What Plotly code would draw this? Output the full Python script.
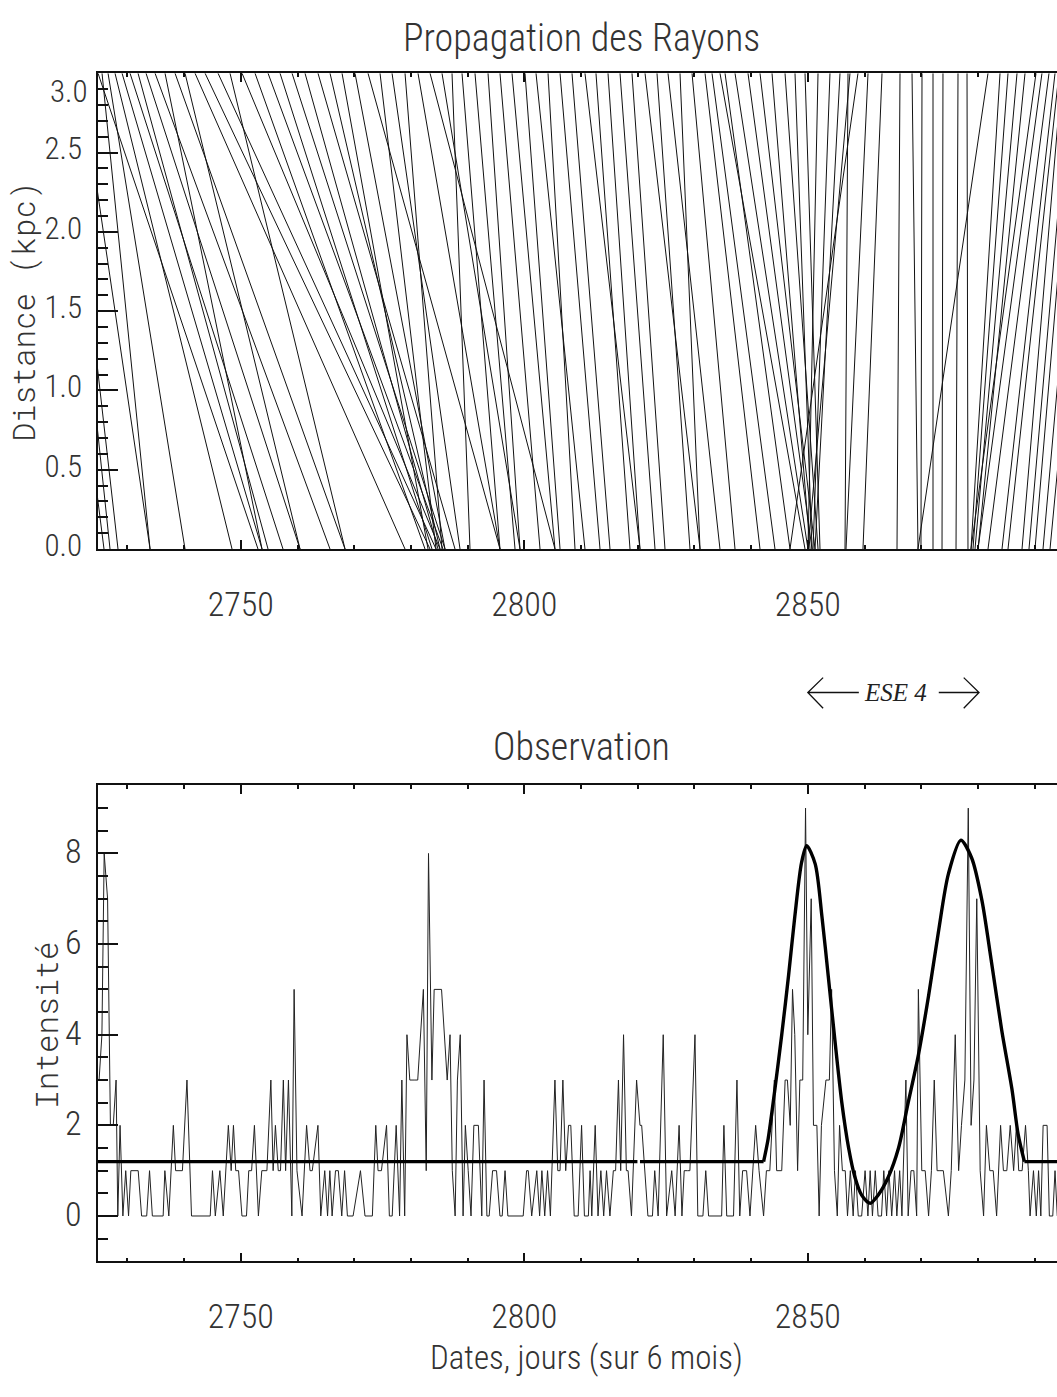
import plotly.graph_objects as go

# ---- ray propagation: date at 3.0 kpc (far end) -> date at 0 kpc (observer), in days ----
ray_day_far = [
    # early rays, arriving before ~2790
    2715.29, 2718.11, 2718.82, 2721.64, 2724.81, 2725.52, 2726.58, 2727.81, 2729.05, 2730.46,
    2731.87, 2733.28, 2734.87, 2736.63, 2738.39, 2740.16, 2741.92, 2743.69, 2745.98, 2748.09,
    2750.21, 2752.50, 2754.80, 2756.91, 2759.03, 2761.32, 2763.61, 2765.73, 2767.85, 2770.14,
    2772.43, 2774.55, 2776.67, 2778.96, 2781.25, 2783.37, 2785.48, 2787.25,
    # quiet interval
    2789.01, 2791.30, 2793.60, 2795.71, 2797.83, 2800.12, 2802.06, 2804.18, 2806.30, 2808.41,
    2810.70, 2812.64, 2814.76, 2816.88, 2818.99, 2821.29, 2823.40, 2825.34, 2827.46, 2829.58,
    2831.87, 2833.10, 2835.40,
    # rays focused near 2850
    2834.51, 2837.16, 2839.45, 2841.57, 2843.69, 2845.98, 2847.74, 2849.51, 2851.80, 2853.91,
    2855.68, 2857.44, 2857.09, 2858.85,
    # late rays
    2860.62, 2863.09, 2866.26, 2868.38, 2870.14, 2872.08, 2873.84, 2876.49, 2878.08, 2881.78,
    2883.90, 2885.31, 2886.90, 2888.31, 2890.25, 2891.30, 2892.54, 2893.60, 2894.30, 2894.83,
    2896.24, 2897.12, 2898.89, 2900.65]
ray_day_obs = [
    2725.87, 2726.93, 2728.34, 2733.99, 2753.03, 2733.99, 2740.16, 2748.45, 2753.74, 2757.44,
    2754.80, 2760.44, 2765.73, 2753.74, 2768.38, 2760.44, 2778.96, 2783.37, 2784.43, 2768.38,
    2785.13, 2782.49, 2785.66, 2783.72, 2786.01, 2784.78, 2787.78, 2785.13, 2783.02, 2786.01,
    2795.71, 2784.43, 2788.66, 2785.48, 2795.71, 2805.41, 2799.24, 2790.42,
    2795.71, 2798.36, 2799.24, 2802.77, 2805.41, 2806.30, 2810.70, 2808.94, 2813.35, 2815.11,
    2820.40, 2818.64, 2820.40, 2823.05, 2824.81, 2830.99, 2829.22, 2834.51, 2830.99, 2837.16,
    2841.57, 2844.21, 2846.86,
    2849.51, 2850.03, 2850.74, 2851.27, 2850.39, 2851.80, 2850.74, 2852.15, 2850.03, 2850.92,
    2851.27, 2850.03, 2856.56, 2846.86,
    2856.74, 2859.73, 2865.73, 2869.43, 2869.96, 2872.08, 2873.67, 2876.14, 2878.25, 2869.43,
    2878.78, 2879.13, 2879.49, 2880.02, 2878.78, 2880.02, 2881.78, 2884.25, 2885.31, 2887.78,
    2889.01, 2890.07, 2891.48, 2892.72]
ray_kpc_far = 3.0

# ---- observed daily intensity ----
obs_day = [2725.0, 2725.5, 2725.9, 2726.5, 2727.0, 2727.5, 2728.0, 2728.3, 2728.7, 2729.2,
           2729.7, 2730.2, 2730.6, 2731.9, 2732.5, 2733.4, 2733.9, 2734.4, 2736.3, 2736.6,
           2737.3, 2738.1, 2738.5, 2739.7, 2740.5, 2741.3, 2744.6, 2745.0, 2745.5, 2746.3,
           2746.9, 2747.8, 2748.3, 2748.7, 2749.1, 2749.6, 2750.2, 2751.0, 2751.4, 2751.9,
           2752.4, 2753.1, 2753.7, 2754.6, 2755.3, 2755.7, 2756.1, 2756.6, 2757.0, 2757.5,
           2757.9, 2758.4, 2759.0, 2759.4, 2759.9, 2760.8, 2761.6, 2762.2, 2762.6, 2763.6,
           2764.1, 2764.8, 2765.3, 2765.7, 2766.1, 2766.7, 2767.2, 2767.8, 2768.3, 2768.8,
           2769.8, 2771.1, 2771.9, 2773.2, 2773.8, 2774.2, 2774.8, 2775.7, 2776.2, 2776.7,
           2777.4, 2778.0, 2778.4, 2778.9, 2779.3, 2779.8, 2780.7, 2781.2, 2782.2, 2782.7,
           2783.1, 2783.7, 2784.1, 2785.4, 2786.4, 2786.9, 2787.3, 2787.8, 2788.2, 2788.7,
           2789.2, 2789.6, 2790.1, 2790.6, 2791.1, 2791.9, 2792.5, 2792.9, 2793.4, 2793.8,
           2794.4, 2795.1, 2795.7, 2796.1, 2796.6, 2797.1, 2799.8, 2800.4, 2800.7, 2801.3,
           2802.2, 2802.7, 2803.1, 2803.6, 2804.1, 2804.6, 2805.4, 2805.9, 2806.3, 2806.8,
           2807.3, 2807.8, 2808.2, 2808.8, 2809.5, 2810.1, 2810.6, 2811.3, 2811.6, 2811.9,
           2812.5, 2813.0, 2813.5, 2814.0, 2814.5, 2815.1, 2815.7, 2816.1, 2816.6, 2817.0,
           2817.5, 2818.0, 2818.3, 2818.9, 2819.8, 2820.4, 2820.7, 2821.8, 2822.6, 2823.0,
           2823.6, 2824.5, 2825.1, 2826.0, 2826.6, 2827.3, 2827.8, 2828.2, 2828.8, 2829.2,
           2830.1, 2830.6, 2831.5, 2832.0, 2832.5, 2834.8, 2835.2, 2835.7, 2836.9, 2837.5,
           2838.0, 2838.5, 2839.2, 2839.8, 2840.8, 2841.4, 2842.2, 2842.7, 2843.3, 2844.1,
           2844.5, 2845.4, 2846.0, 2846.4, 2846.9, 2847.3, 2847.7, 2848.2, 2848.6, 2849.1,
           2849.6, 2850.0, 2850.6, 2851.0, 2851.6, 2852.0, 2852.4, 2853.2, 2853.8, 2854.2,
           2854.7, 2855.2, 2855.6, 2856.1, 2856.6, 2857.0, 2857.5, 2858.0, 2858.4, 2858.9,
           2859.5, 2860.1, 2860.6, 2861.0, 2861.4, 2861.9, 2862.4, 2863.0, 2863.4, 2863.9,
           2864.3, 2864.8, 2865.3, 2865.7, 2866.2, 2866.6, 2867.3, 2867.7, 2868.2, 2868.7,
           2869.2, 2869.5, 2870.1, 2870.7, 2871.3, 2871.8, 2872.3, 2872.8, 2873.3, 2873.9,
           2874.8, 2875.3, 2876.0, 2876.6, 2877.1, 2877.7, 2878.3, 2878.8, 2879.3, 2879.8,
           2880.4, 2881.0, 2881.5, 2882.1, 2882.7, 2883.3, 2884.0, 2884.5, 2885.1, 2885.7,
           2886.3, 2886.8, 2887.2, 2887.8, 2888.4, 2888.9, 2889.2, 2889.8, 2890.3, 2890.7,
           2891.1, 2891.5, 2892.2, 2892.6, 2893.2, 2893.6, 2894.0]
obs_count = [3, 4, 8, 7, 2, 2, 3, 0, 2, 0,
             1, 0, 1, 1, 0, 0, 1, 0, 0, 1,
             0, 2, 1, 1, 3, 0, 0, 1, 0, 1,
             0, 2, 1, 2, 1, 1, 0, 0, 1, 1,
             2, 0, 1, 1, 3, 1, 2, 1, 1, 3,
             1, 3, 0, 5, 1, 0, 2, 1, 1, 2,
             0, 1, 0, 1, 0, 1, 1, 0, 1, 0,
             0, 1, 0, 0, 2, 1, 1, 2, 0, 0,
             2, 0, 3, 0, 4, 3, 3, 3, 5, 1,
             8, 3, 5, 5, 3, 4, 1, 0, 3, 4,
             0, 2, 1, 0, 2, 2, 0, 3, 0, 0,
             1, 1, 0, 0, 1, 0, 0, 1, 1, 0,
             1, 0, 1, 0, 1, 0, 3, 1, 1, 3,
             1, 2, 2, 0, 0, 2, 0, 0, 1, 0,
             2, 0, 1, 0, 1, 0, 1, 1, 3, 1,
             4, 1, 1, 0, 3, 2, 2, 0, 0, 1,
             0, 4, 0, 1, 0, 2, 0, 1, 1, 1,
             4, 0, 0, 1, 0, 0, 2, 0, 0, 3,
             0, 1, 1, 0, 2, 1, 0, 1, 1, 3,
             1, 1, 3, 3, 2, 5, 4, 1, 3, 3,
             9, 4, 7, 2, 2, 0, 2, 3, 3, 5,
             1, 0, 2, 1, 1, 0, 1, 0, 1, 0,
             0, 1, 0, 1, 0, 1, 0, 0, 1, 0,
             1, 0, 1, 0, 1, 0, 3, 0, 1, 1,
             0, 5, 1, 1, 0, 1, 3, 1, 1, 1,
             0, 1, 4, 1, 2, 3, 9, 2, 3, 7,
             1, 0, 2, 1, 1, 0, 2, 1, 1, 2,
             1, 2, 1, 1, 2, 1, 0, 1, 0, 1,
             0, 2, 2, 0, 0, 1, 0]

# ---- fitted light curve: quiet level (drawn in two pieces) and the double flare ----
quiet_level = 1.2
quiet_break = [2819.95, 2820.4]
flare_day = [2842.2, 2843.0, 2844.2, 2845.4, 2846.6, 2847.7, 2848.9, 2849.8, 2851.3,
             2852.5, 2853.6, 2854.8, 2856.0, 2857.2, 2858.3, 2859.5, 2861.0, 2862.4, 2864.2,
             2866.0, 2867.7, 2869.5, 2871.3, 2873.0, 2874.8, 2877.0, 2878.9, 2880.7, 2882.4,
             2884.2, 2886.0, 2887.1, 2888.2]
flare_val = [1.2, 1.7, 2.8, 4.0, 5.3, 6.6, 7.8, 8.17, 7.77,
             6.6, 5.3, 3.85, 2.5, 1.5, 0.86, 0.46, 0.28, 0.46, 0.86,
             1.5, 2.5, 3.55, 4.86, 6.24, 7.55, 8.29, 7.9, 6.97, 5.6,
             4.1, 2.8, 1.8, 1.2]

# ESE 4 window (days)
ese_start, ese_end = 2850.0, 2880.2

X_RANGE = [2724.81, 2893.95]
W, H = 1057, 1397
FONT = "Roboto Condensed, Roboto, Lato, sans-serif"
FW = 300
MONO = "Roboto Mono, Liberation Mono, monospace"
INK = "#111111"
TXT = "#333333"


def py(px):
    """page pixel row -> paper y"""
    return 1 - px / H


def pxx(px):
    """page pixel column -> paper x (plot area starts at 98 px)"""
    return (px - 98) / (W - 98)


fig = go.Figure()

# rays as one polyline with breaks
rx, ry = [], []
for a, b in zip(ray_day_far, ray_day_obs):
    rx += [a, b, None]
    ry += [ray_kpc_far, 0.0, None]
fig.add_trace(go.Scatter(x=rx, y=ry, mode="lines", xaxis="x", yaxis="y",
                         line=dict(color=INK, width=1), hoverinfo="skip", showlegend=False))

fig.add_trace(go.Scatter(x=obs_day, y=obs_count, mode="lines", xaxis="x2", yaxis="y2",
                         line=dict(color="#222222", width=1), showlegend=False))

thick = dict(color="black", width=3.4)
quiet_x = [X_RANGE[0], quiet_break[0], None, quiet_break[1], flare_day[0]]
quiet_y = [quiet_level, quiet_level, None, quiet_level, quiet_level]
fig.add_trace(go.Scatter(x=quiet_x, y=quiet_y, mode="lines", xaxis="x2", yaxis="y2",
                         line=thick, showlegend=False))
fig.add_trace(go.Scatter(x=flare_day, y=flare_val, mode="lines", xaxis="x2", yaxis="y2",
                         line=dict(thick, shape="spline", smoothing=0.8), showlegend=False))
fig.add_trace(go.Scatter(x=[flare_day[-1], X_RANGE[1] + 1], y=[quiet_level, quiet_level],
                         mode="lines", xaxis="x2", yaxis="y2", line=thick, showlegend=False))

top_dom = [py(555), py(74)]
bot_dom = [py(1275), py(794)]

tickfont = dict(family=FONT, size=34, color=TXT, weight=FW)
xcommon = dict(range=X_RANGE, tickmode="linear", tick0=2700, dtick=50,
               ticks="inside", ticklen=9, tickwidth=1.5, tickcolor=INK,
               minor=dict(tick0=2700, dtick=10, ticks="inside", ticklen=4, tickwidth=1.5, tickcolor=INK),
               showline=True, linewidth=1.5, linecolor=INK, mirror="ticks",
               showgrid=False, zeroline=False,
               tickfont=tickfont, ticklabelstandoff=24)

fig.update_layout(
    width=W, height=H, margin=dict(l=98, r=0, t=0, b=0),
    paper_bgcolor="white", plot_bgcolor="white", showlegend=False,
    xaxis=dict(domain=[0, 1], anchor="y", **xcommon),
    xaxis2=dict(domain=[0, 1], anchor="y2", **xcommon),
    yaxis=dict(domain=top_dom, anchor="x", range=[0, 3],
               tickvals=[0, 0.5, 1, 1.5, 2, 2.5, 3],
               ticktext=["0.0", "0.5", "1.0", "1.5", "2.0", "2.5", ""],
               ticks="inside", ticklen=20, tickwidth=1.5, tickcolor=INK,
               minor=dict(tick0=0, dtick=0.1, ticks="inside", ticklen=10, tickwidth=1.5, tickcolor=INK),
               showline=True, linewidth=1.5, linecolor=INK, showgrid=False, zeroline=False,
               tickfont=dict(tickfont, size=31), ticklabelstandoff=8, ticklabelshift=-4),
    yaxis3=dict(overlaying="y", anchor="x", side="right", range=[0, 3],
                tickmode="linear", tick0=0, dtick=0.5, ticks="inside", ticklen=13, tickwidth=1.5,
                tickcolor=INK, minor=dict(tick0=0, dtick=0.1, ticks="inside", ticklen=3,
                                          tickwidth=1.5, tickcolor=INK),
                showticklabels=False, showline=False, showgrid=False, zeroline=False),
    yaxis2=dict(domain=bot_dom, anchor="x2", range=[-1, 9.5],
                tickvals=[0, 2, 4, 6, 8],
                ticks="inside", ticklen=20, tickwidth=1.5, tickcolor=INK,
                minor=dict(tick0=0, dtick=0.5, ticks="inside", ticklen=10, tickwidth=1.5, tickcolor=INK),
                showline=True, linewidth=1.5, linecolor=INK, showgrid=False, zeroline=False,
                tickfont=tickfont, ticklabelstandoff=8, ticklabelshift=-2),
    yaxis4=dict(overlaying="y2", anchor="x2", side="right", range=[-1, 9.5],
                tickmode="linear", tick0=0, dtick=2, ticks="inside", ticklen=13, tickwidth=1.5,
                tickcolor=INK, minor=dict(tick0=0, dtick=0.5, ticks="inside", ticklen=3,
                                          tickwidth=1.5, tickcolor=INK),
                showticklabels=False, showline=False, showgrid=False, zeroline=False),
)

ann = [
    dict(text="Propagation des Rayons", x=pxx(581), y=py(38), size=38),
    dict(text="Observation", x=pxx(581), y=py(755), size=38),
    dict(text="Dates, jours (sur 6 mois)", x=pxx(586), y=py(1372), size=33),
]
for a in ann:
    fig.add_annotation(text=a["text"], x=a["x"], y=a["y"], xref="paper", yref="paper",
                       xanchor="center", yanchor="middle", showarrow=False,
                       font=dict(family=FONT, size=a["size"], color=TXT, weight=FW))

# top tick label of the distance axis sits a little below its tick
fig.add_annotation(text="3.0", x=0, y=3.0, xref="paper", yref="y", xanchor="right",
                   yanchor="middle", xshift=-8, yshift=-18, showarrow=False,
                   font=dict(family=FONT, size=31, color=TXT, weight=FW))

fig.add_annotation(text="Distance (kpc)", x=pxx(23), y=py(315), xref="paper", yref="paper",
                   textangle=-90, showarrow=False, xanchor="center", yanchor="middle",
                   font=dict(family=MONO, size=31, color=TXT, weight=FW))
fig.add_annotation(text="Intensité", x=pxx(46), y=py(1037), xref="paper", yref="paper",
                   textangle=-90, showarrow=False, xanchor="center", yanchor="middle",
                   font=dict(family=MONO, size=31, color=TXT, weight=FW))

# ESE 4 marker: label between two arrows spanning the event window
fig.add_annotation(text="<i>ESE 4</i>", x=(ese_start + ese_end) / 2 + 0.3, y=py(700),
                   xref="x2", yref="paper", showarrow=False, xanchor="center", yanchor="middle",
                   font=dict(family="Liberation Serif, serif", size=25, color="#222"))
head_dx = 2.7  # days
yh, yu, yd = py(700), py(685), py(716)
left_end = ese_start + 9.0
right_start = ese_end - 7.1
arrow_paths = [
    f"M {ese_start},{yh} L {left_end},{yh} M {ese_start + head_dx},{yu} L {ese_start},{yh} L {ese_start + head_dx},{yd}",
    f"M {right_start},{yh} L {ese_end},{yh} M {ese_end - head_dx},{yu} L {ese_end},{yh} L {ese_end - head_dx},{yd}",
]
for p in arrow_paths:
    fig.add_shape(type="path", path=p, xref="x2", yref="paper",
                  line=dict(color=INK, width=1.3))

fig.write_html("out.html")
